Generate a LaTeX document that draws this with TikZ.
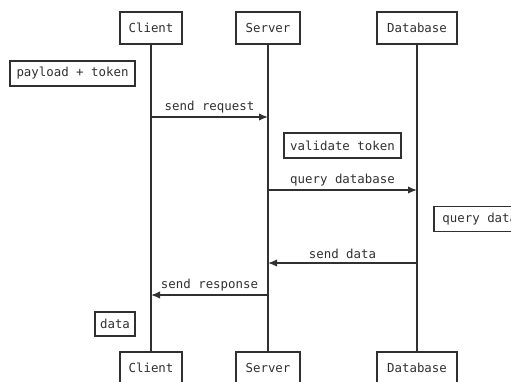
\documentclass[tikz,border=0pt]{standalone}
\usepackage{fontspec}
\setmonofont{DejaVu Sans Mono}
\usetikzlibrary{arrows.meta}
\definecolor{ink}{HTML}{303030}
\begin{document}
\begin{tikzpicture}[x=1pt,y=-1pt,
  actor/.style={draw=ink,line width=1.6pt,fill=white,minimum height=32pt,inner sep=0pt,font=\ttfamily\fontsize{12.4}{14}\selectfont,text=ink},
  note/.style={draw=ink,line width=1.6pt,fill=white,minimum height=25pt,inner sep=0pt,font=\ttfamily\fontsize{12.4}{14}\selectfont,text=ink},
  life/.style={draw=ink,line width=1.5pt},
  msg/.style={draw=ink,line width=1.5pt,-{Latex[length=9pt,width=7.5pt]}},
  lbl/.style={font=\ttfamily\fontsize{12.4}{14}\selectfont,text=ink,inner sep=0pt}]
\useasboundingbox (0,0) rectangle (511,381);
\begin{scope}
\clip (0,0) rectangle (511,381);
% actors top
\node[actor,minimum width=62pt] (cT) at (151,28) {Client};
\node[actor,minimum width=64pt] (sT) at (268,28) {Server};
\node[actor,minimum width=80pt] (dT) at (417,28) {Database};
% actors bottom
\node[actor,minimum width=62pt] (cB) at (151,368) {Client};
\node[actor,minimum width=64pt] (sB) at (268,368) {Server};
\node[actor,minimum width=80pt] (dB) at (417,368) {Database};
% lifelines
\draw[life] (cT.south) -- (cB.north);
\draw[life] (sT.south) -- (sB.north);
\draw[life] (dT.south) -- (dB.north);
% notes
\node[note,minimum width=125pt] (n1) at (72.5,73.5) {payload + token};
\node[note,minimum width=117pt] (n2) at (342.5,145.5) {validate token};
\node[note,minimum width=92pt,anchor=west] (n3) at (433,219) {query data};
\node[note,minimum width=40pt,minimum height=24pt] (n4) at (115,324) {data};
% message rows
\coordinate (y1) at (0,117);
\coordinate (y2) at (0,190);
\coordinate (y3) at (0,263);
\coordinate (y4) at (0,295);
\draw[msg] (cT.south |- y1) -- node[lbl,above=3.5pt] {send request} (sT.south |- y1);
\draw[msg] (sT.south |- y2) -- node[lbl,above=3.5pt] {query database} (dT.south |- y2);
\draw[msg] (dT.south |- y3) -- node[lbl,above=3.5pt] {send data} (sT.south |- y3);
\draw[msg] (sT.south |- y4) -- node[lbl,above=3.5pt] {send response} (cT.south |- y4);
\end{scope}
\end{tikzpicture}
\end{document}
